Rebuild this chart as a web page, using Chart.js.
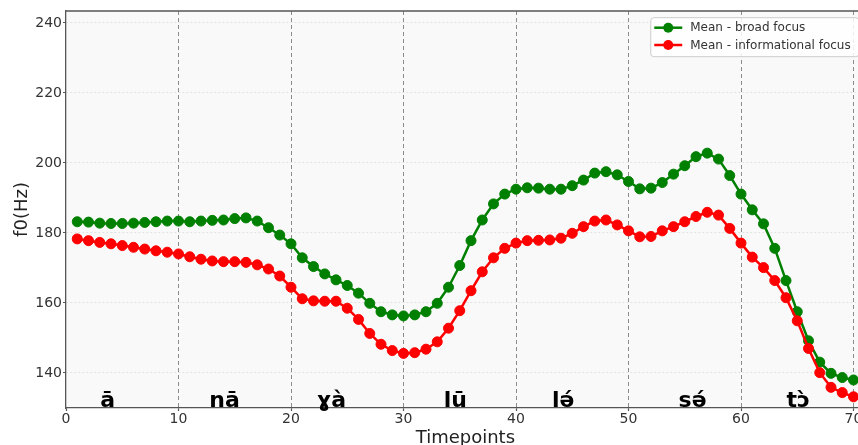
<!DOCTYPE html>
<html lang="en">
<head>
  <meta charset="UTF-8">
  <title>f0 contours - broad vs informational focus</title>
  <script src="https://cdn.jsdelivr.net/npm/chart.js"></script>
  <style>
    html, body {
      margin: 0;
      padding: 0;
      background: #fff;
      overflow: hidden;
    }
    #chart {
      display: block;
    }
  </style>
</head>
<body>

  <canvas id="chart" width="880" height="460"></canvas>

  <script>
    // timepoints on the x axis
    const timepoints = [
      1, 2, 3, 4, 5, 6, 7, 8, 9, 10,
      11, 12, 13, 14, 15, 16, 17, 18, 19, 20,
      21, 22, 23, 24, 25, 26, 27, 28, 29, 30,
      31, 32, 33, 34, 35, 36, 37, 38, 39, 40,
      41, 42, 43, 44, 45, 46, 47, 48, 49, 50,
      51, 52, 53, 54, 55, 56, 57, 58, 59, 60,
      61, 62, 63, 64, 65, 66, 67, 68, 69, 70
    ];

    // mean f0 (Hz), broad focus
    const broadFocus = [
      183.2, 183.1, 182.8, 182.7, 182.7, 182.8, 183.0, 183.2, 183.4, 183.4,
      183.2, 183.4, 183.6, 183.7, 184.1, 184.3, 183.4, 181.5, 179.4, 176.9,
      172.9, 170.4, 168.3, 166.6, 165.0, 162.8, 159.9, 157.5, 156.6, 156.3,
      156.6, 157.5, 159.9, 164.5, 170.7, 177.8, 183.7, 188.3, 191.1, 192.5,
      192.9, 192.8, 192.5, 192.5, 193.5, 195.1, 197.1, 197.5, 196.6, 194.7,
      192.6, 192.8, 194.4, 196.8, 199.2, 201.8, 202.8, 201.1, 196.4, 191.1,
      186.6, 182.6, 175.6, 166.4, 157.5, 149.2, 143.1, 139.9, 138.7, 138.0
    ];

    // mean f0 (Hz), informational focus
    const infoFocus = [
      178.3, 177.8, 177.3, 176.9, 176.4, 175.9, 175.4, 174.9, 174.5, 174.0,
      173.2, 172.5, 172.0, 171.8, 171.8, 171.6, 170.9, 169.7, 167.7, 164.5,
      161.2, 160.6, 160.5, 160.5, 158.5, 155.3, 151.3, 148.2, 146.4, 145.6,
      145.8, 146.8, 148.9, 152.8, 157.8, 163.5, 168.9, 172.9, 175.6, 177.1,
      177.8, 177.9, 178.0, 178.5, 179.9, 181.8, 183.4, 183.7, 182.3, 180.6,
      178.9, 179.0, 180.6, 181.8, 183.2, 184.7, 185.9, 185.1, 181.3, 177.1,
      173.1, 170.1, 166.4, 161.5, 154.9, 147.0, 140.1, 135.9, 134.4, 133.2
    ];

    // syllables written along the bottom, and where they sit on the x axis
    const syllables = ['ā', 'na\u0304', 'ɣà', 'lū', 'lə́', 'sə́', 'tɔ̀'];
    const syllablePos = [3.7, 14.1, 23.6, 34.6, 44.2, 55.7, 65.1];

    const xTicks = [0, 10, 20, 30, 40, 50, 60, 70];
    const yTicks = [140, 160, 180, 200, 220, 240];

    const seriesNames = ['Mean - broad focus', 'Mean - informational focus'];
    const seriesColors = ['green', 'red'];

    const FONT = '"DejaVu Sans", sans-serif';

    // grey plot background + top/right frame
    const frame = {
      id: 'frame',
      beforeDraw(chart) {
        const { ctx, chartArea: a } = chart;
        ctx.save();
        ctx.fillStyle = '#f9f9f9';
        ctx.fillRect(a.left, a.top, a.right - a.left, a.bottom - a.top);
        ctx.restore();
      },
      afterDraw(chart) {
        const { ctx, chartArea: a } = chart;
        ctx.save();
        ctx.strokeStyle = '#555';
        ctx.lineWidth = 1.3;
        ctx.beginPath();
        ctx.moveTo(a.left, a.top);
        ctx.lineTo(a.right, a.top);
        ctx.lineTo(a.right, a.bottom);
        ctx.stroke();
        ctx.restore();
      }
    };

    // syllable labels sitting on the x axis
    const syllableLabels = {
      id: 'syllableLabels',
      afterDatasetsDraw(chart) {
        const { ctx, chartArea: a, scales } = chart;
        ctx.save();
        ctx.font = 'bold 22px ' + FONT;
        ctx.fillStyle = '#000';
        ctx.textAlign = 'center';
        ctx.textBaseline = 'alphabetic';
        syllables.forEach((s, i) => {
          ctx.fillText(s, scales.x.getPixelForValue(syllablePos[i]), a.bottom - 1);
        });
        ctx.restore();
      }
    };

    // matplotlib-style legend in the upper right corner of the plot
    const innerLegend = {
      id: 'innerLegend',
      afterDraw(chart) {
        const { ctx, chartArea: a } = chart;
        const boxX = a.right - 214, boxY = a.top + 6.7;
        const boxW = 208, boxH = 39;
        ctx.save();
        ctx.fillStyle = 'rgba(255,255,255,0.85)';
        ctx.strokeStyle = '#cccccc';
        ctx.lineWidth = 1;
        ctx.beginPath();
        ctx.roundRect(boxX, boxY, boxW, boxH, 3);
        ctx.fill();
        ctx.stroke();

        ctx.font = '12px ' + FONT;
        ctx.textBaseline = 'middle';
        ctx.textAlign = 'left';
        seriesNames.forEach((name, i) => {
          const y = boxY + 10 + i * 17.3;
          const x0 = boxX + 3.5;
          ctx.strokeStyle = seriesColors[i];
          ctx.lineWidth = 2.5;
          ctx.beginPath();
          ctx.moveTo(x0, y);
          ctx.lineTo(x0 + 28, y);
          ctx.stroke();
          ctx.fillStyle = seriesColors[i];
          ctx.beginPath();
          ctx.arc(x0 + 14, y, 5, 0, Math.PI * 2);
          ctx.fill();
          ctx.fillStyle = '#333';
          ctx.fillText(name, x0 + 36, y + 0.5);
        });
        ctx.restore();
      }
    };

    const ctx = document.getElementById('chart').getContext('2d');

    new Chart(ctx, {
      type: 'line',
      data: {
        datasets: [
          {
            label: seriesNames[0],
            data: timepoints.map((t, i) => ({ x: t, y: broadFocus[i] })),
            borderColor: seriesColors[0],
            backgroundColor: seriesColors[0],
            borderWidth: 2.5,
            pointRadius: 5,
            pointBorderWidth: 1,
            pointBorderColor: seriesColors[0],
            tension: 0,
            order: 1
          },
          {
            label: seriesNames[1],
            data: timepoints.map((t, i) => ({ x: t, y: infoFocus[i] })),
            borderColor: seriesColors[1],
            backgroundColor: seriesColors[1],
            borderWidth: 2.5,
            pointRadius: 5,
            pointBorderWidth: 1,
            pointBorderColor: seriesColors[1],
            tension: 0,
            order: 0
          }
        ]
      },
      options: {
        responsive: false,
        animation: false,
        devicePixelRatio: 1,
        layout: {
          padding: { left: 0, top: 11, right: 15.25, bottom: 0 }
        },
        plugins: {
          legend: { display: false },
          tooltip: { enabled: false },
          title: { display: false }
        },
        scales: {
          x: {
            type: 'linear',
            position: 'bottom',
            min: 0,
            max: 71,
            afterBuildTicks: (scale) => {
              scale.ticks = xTicks.map(v => ({ value: v }));
            },
            afterFit: (scale) => { scale.height = 52; },
            ticks: {
              color: '#333',
              font: { family: FONT, size: 14 },
              padding: 0,
              maxRotation: 0
            },
            grid: {
              color: (c) => c.tick && c.tick.value === 0 ? 'rgba(0,0,0,0)' : '#8c8c8c',
              lineWidth: 1,
              tickLength: 3,
              tickColor: '#555',
              tickWidth: 1.2,
              tickBorderDash: []
            },
            border: {
              display: true,
              color: '#555',
              width: 1.3,
              dash: [4, 3]
            },
            title: {
              display: true,
              text: 'Timepoints',
              color: '#222',
              font: { family: FONT, size: 18, lineHeight: 1.2 },
              padding: { top: 0, bottom: 10.7 }
            }
          },
          y: {
            type: 'linear',
            min: 130,
            max: 243.4,
            afterBuildTicks: (scale) => {
              scale.ticks = yTicks.map(v => ({ value: v }));
            },
            afterFit: (scale) => { scale.width = 66; },
            ticks: {
              color: '#333',
              font: { family: FONT, size: 14 },
              padding: 1
            },
            grid: {
              color: '#dcdcdc',
              lineWidth: 0.8,
              tickLength: 3,
              tickColor: '#555',
              tickWidth: 1.2,
              tickBorderDash: []
            },
            border: {
              display: true,
              color: '#555',
              width: 1.3,
              dash: [2, 2]
            },
            title: {
              display: true,
              text: 'f0(Hz)',
              color: '#222',
              font: { family: FONT, size: 18, lineHeight: 1.2 },
              padding: { top: 11.2, bottom: 0 }
            }
          }
        }
      },
      plugins: [frame, syllableLabels, innerLegend]
    });
  </script>

</body>
</html>
